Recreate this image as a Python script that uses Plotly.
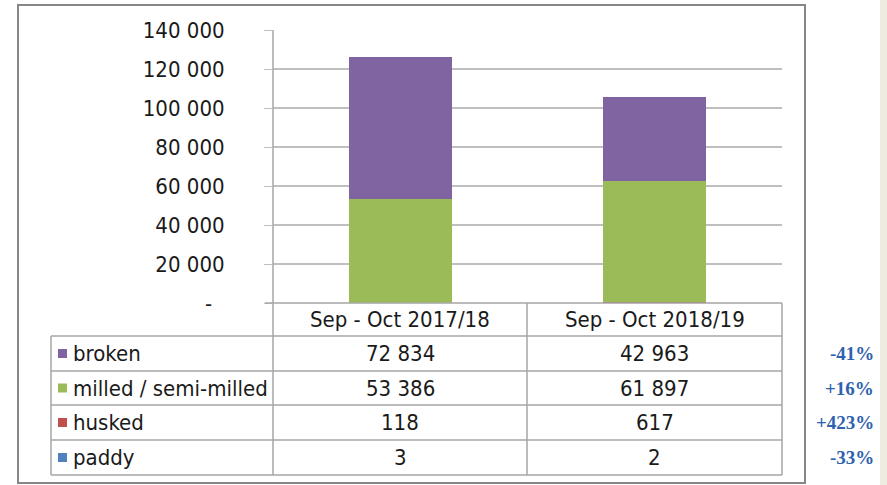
import plotly.graph_objects as go

W, H = 887, 485

categories = ["Sep - Oct 2017/18", "Sep - Oct 2018/19"]
series_names = ["broken", "milled / semi-milled", "husked", "paddy"]
broken = [72834, 42963]
milled = [53386, 61897]
husked = [118, 617]
paddy = [3, 2]
change_labels = ["-41%", "+16%", "+423%", "-33%"]
y_tickvals = [0, 20000, 40000, 60000, 80000, 100000, 120000, 140000]
y_ticktext = ["-\u00a0\u00a0", "20 000", "40 000", "60 000", "80 000", "100 000", "120 000", "140 000"]

colors = {"broken": "#8064A2", "milled / semi-milled": "#9BBB59",
          "husked": "#C0504D", "paddy": "#4F81BD"}
values = {"broken": broken, "milled / semi-milled": milled,
          "husked": husked, "paddy": paddy}

FONT = "DejaVu Sans Condensed, DejaVu Sans, sans-serif"
FS = 22
TXT = "#1a1a1a"
GRID = "#BFBFBF"
TAB = "#A6A6A6"


def px(x):
    return x / W


def py(y):
    return 1 - y / H


fig = go.Figure()
# bottom to top stack
for name in ["paddy", "husked", "milled / semi-milled", "broken"]:
    fig.add_trace(go.Bar(x=categories, y=values[name], name=name,
                         marker=dict(color=colors[name], line=dict(width=0)),
                         width=0.405, showlegend=False))

x0, x1 = 273, 782
y_top, y_zero = 30, 303

shapes = []
# outer chart border
shapes.append(dict(type="rect", xref="paper", yref="paper",
                   x0=px(18), x1=px(805), y0=py(483), y1=py(5),
                   line=dict(color="#878787", width=2)))
# beige strip at right
shapes.append(dict(type="rect", xref="paper", yref="paper",
                   x0=px(880), x1=1, y0=0, y1=1,
                   line=dict(width=0), fillcolor="#EEEBE0", layer="above"))

rows_y = [303, 336, 371, 405, 440, 475]
# horizontal table lines
shapes.append(dict(type="line", xref="paper", yref="paper",
                   x0=px(265), x1=px(x1), y0=py(303), y1=py(303),
                   line=dict(color=TAB, width=1.5)))
for yy in rows_y[1:]:
    shapes.append(dict(type="line", xref="paper", yref="paper",
                       x0=px(51), x1=px(x1), y0=py(yy), y1=py(yy),
                       line=dict(color=TAB, width=1.5)))
# vertical table lines
shapes.append(dict(type="line", xref="paper", yref="paper",
                   x0=px(51), x1=px(51), y0=py(336), y1=py(475),
                   line=dict(color=TAB, width=1.5)))
shapes.append(dict(type="line", xref="paper", yref="paper",
                   x0=px(x0), x1=px(x0), y0=py(y_top), y1=py(475),
                   line=dict(color=TAB, width=1.5)))
shapes.append(dict(type="line", xref="paper", yref="paper",
                   x0=px(527), x1=px(527), y0=py(303), y1=py(475),
                   line=dict(color=TAB, width=1.5)))
shapes.append(dict(type="line", xref="paper", yref="paper",
                   x0=px(x1), x1=px(x1), y0=py(303), y1=py(475),
                   line=dict(color=TAB, width=1.5)))

annotations = []
# header
for c in categories:
    annotations.append(dict(x=c, xref="x", y=py(319), yref="paper", text=c,
                            showarrow=False, xanchor="center", yanchor="middle",
                            font=dict(family=FONT, size=FS, color=TXT)))
row_centers = [353.5, 388, 422.5, 457.5]
for i, name in enumerate(series_names):
    yc = row_centers[i]
    shapes.append(dict(type="rect", xref="paper", yref="paper",
                       x0=px(58), x1=px(67), y0=py(yc + 4.5), y1=py(yc - 4.5),
                       line=dict(width=0), fillcolor=colors[name]))
    annotations.append(dict(x=px(71), xref="paper", y=py(yc), yref="paper",
                            text=name, showarrow=False, xanchor="left",
                            yanchor="middle",
                            font=dict(family=FONT, size=FS, color=TXT)))
    for j, c in enumerate(categories):
        v = values[name][j]
        annotations.append(dict(x=c, xref="x", y=py(yc), yref="paper",
                                text=f"{v:,}".replace(",", " "),
                                showarrow=False, xanchor="center",
                                yanchor="middle",
                                font=dict(family=FONT, size=FS, color=TXT)))
    annotations.append(dict(x=px(876), xref="paper", y=py(yc), yref="paper",
                            text=f"<b>{change_labels[i]}</b>", showarrow=False,
                            xanchor="right", yanchor="middle",
                            font=dict(family="Liberation Serif, serif", size=19,
                                      color="#2F62AE")))

fig.update_layout(
    template="none",
    width=W, height=H,
    margin=dict(l=0, r=0, t=0, b=0, pad=0, autoexpand=False),
    paper_bgcolor="white", plot_bgcolor="white",
    barmode="stack", bargap=0.6, showlegend=False,
    shapes=shapes, annotations=annotations,
    xaxis=dict(domain=[px(x0), px(x1)], range=[-0.5, 1.5], type="category",
               showticklabels=False, showgrid=False, zeroline=False,
               showline=False, ticks="", automargin=False),
    yaxis=dict(domain=[py(y_zero), py(y_top)], range=[0, 140000],
               tickvals=y_tickvals, ticktext=y_ticktext,
               ticks="outside", ticklen=8, tickcolor=GRID,
               showgrid=True, gridcolor=GRID, gridwidth=1.5,
               zeroline=False, showline=False, automargin=False,
               ticklabelstandoff=35,
               tickfont=dict(family=FONT, size=FS, color=TXT)),
)

fig.write_html("out.html", config={"displayModeBar": False},
               post_script="document.body.style.margin='0';document.body.style.overflow='hidden';")
